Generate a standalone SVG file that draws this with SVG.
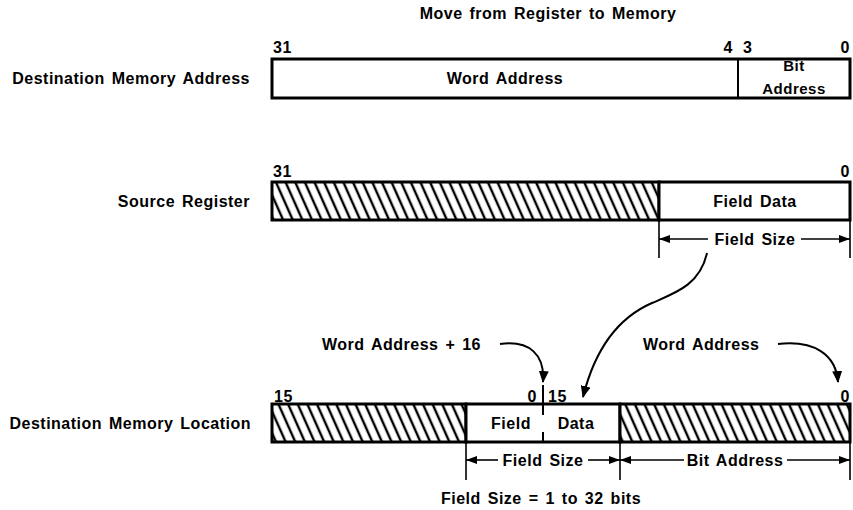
<svg xmlns="http://www.w3.org/2000/svg" width="853" height="510" viewBox="0 0 853 510">
  <style>
    text { font-family: "Liberation Sans", Arial, sans-serif; font-weight: bold; font-size: 16px; letter-spacing: 0.5px; word-spacing: 2px; fill: #000; }
    .mid { text-anchor: middle; }
    .end { text-anchor: end; }
    .box { fill: #fff; stroke: #000; stroke-width: 3; }
    .hatch { fill: url(#hatch); stroke: #000; stroke-width: 3; }
    .div { stroke: #000; stroke-width: 2; fill: none; }
    .ext { stroke: #000; stroke-width: 1.6; fill: none; }
    .dim { stroke: #000; stroke-width: 1.6; fill: none; }
    .curve { stroke: #000; stroke-width: 2; fill: none; marker-end: url(#ah); }
  </style>
  <defs>
    <pattern id="hatch" patternUnits="userSpaceOnUse" width="8.8" height="20" patternTransform="rotate(-24)">
      <rect width="8.8" height="20" fill="#fff"/>
      <line x1="2" y1="0" x2="2" y2="20" stroke="#000" stroke-width="2.4"/>
    </pattern>
    <marker id="ah" markerUnits="userSpaceOnUse" markerWidth="12" markerHeight="10" viewBox="0 0 12 10" refX="11" refY="5" orient="auto">
      <path d="M0,0 L12,5 L0,10 Z" fill="#000"/>
    </marker>
    <marker id="dh" markerUnits="userSpaceOnUse" markerWidth="11" markerHeight="8" viewBox="0 0 11 8" refX="11" refY="4" orient="auto-start-reverse">
      <path d="M0,0 L11,4 L0,8 Z" fill="#000"/>
    </marker>
  </defs>

  <g id="title">
    <text class="mid" x="548" y="19">Move from Register to Memory</text>
  </g>

  <g id="dest-memory-address">
    <text class="end" x="250" y="84">Destination Memory Address</text>
    <text x="273" y="53">31</text>
    <text class="end" x="733" y="53">4</text>
    <text x="743" y="53">3</text>
    <text class="end" x="850" y="53">0</text>
    <rect class="box" x="272" y="59" width="578" height="39"/>
    <line class="div" x1="738" y1="59" x2="738" y2="98"/>
    <text class="mid" x="505" y="84">Word Address</text>
    <text class="mid" x="794" y="71" style="font-size:15px">Bit</text>
    <text class="mid" x="794" y="94" style="font-size:15px">Address</text>
  </g>

  <g id="source-register">
    <text class="end" x="250" y="207">Source Register</text>
    <text x="273" y="177">31</text>
    <text class="end" x="850" y="177">0</text>
    <rect class="hatch" x="272" y="182" width="387" height="38"/>
    <rect class="box" x="659" y="182" width="191" height="38"/>
    <text class="mid" x="755" y="207">Field Data</text>
    <line class="ext" x1="659" y1="220" x2="659" y2="258"/>
    <line class="ext" x1="850" y1="220" x2="850" y2="258"/>
    <line class="dim" x1="659" y1="239" x2="708" y2="239" marker-start="url(#dh)"/>
    <line class="dim" x1="801" y1="239" x2="850" y2="239" marker-end="url(#dh)"/>
    <text class="mid" x="755" y="245">Field Size</text>
  </g>

  <g id="dest-memory-location">
    <text class="end" x="251" y="429">Destination Memory Location</text>
    <text x="274" y="402">15</text>
    <text class="end" x="537" y="402">0</text>
    <text x="548" y="402">15</text>
    <text class="end" x="850" y="402">0</text>
    <rect class="hatch" x="272" y="404" width="194" height="38"/>
    <rect class="box" x="466" y="404" width="154" height="38"/>
    <rect class="hatch" x="620" y="404" width="230" height="38"/>
    <line class="div" x1="543" y1="385" x2="543" y2="415"/>
    <line class="div" x1="543" y1="432" x2="543" y2="442"/>
    <text class="mid" x="511" y="429">Field</text>
    <text class="mid" x="576" y="429">Data</text>
    <line class="ext" x1="466" y1="442" x2="466" y2="480"/>
    <line class="ext" x1="620" y1="442" x2="620" y2="480"/>
    <line class="ext" x1="850" y1="442" x2="850" y2="480"/>
    <line class="dim" x1="466" y1="460" x2="498" y2="460" marker-start="url(#dh)"/>
    <line class="dim" x1="588" y1="460" x2="620" y2="460" marker-end="url(#dh)"/>
    <text class="mid" x="543" y="466">Field Size</text>
    <line class="dim" x1="620" y1="460" x2="684" y2="460" marker-start="url(#dh)"/>
    <line class="dim" x1="787" y1="460" x2="850" y2="460" marker-end="url(#dh)"/>
    <text class="mid" x="735" y="466">Bit Address</text>
    <text class="mid" x="541" y="504">Field Size = 1 to 32 bits</text>
  </g>

  <g id="annotations">
    <text x="322" y="350">Word Address + 16</text>
    <text x="643" y="350">Word Address</text>
  </g>

  <g id="connectors">
    <path class="curve" d="M500,344 C530,340 545,355 543,382"/>
    <path class="curve" d="M778,344 C815,340 836,355 838,382"/>
    <path class="curve" d="M707,253 C700,285 675,293 652,303 C622,316 596,345 583,397"/>
  </g>
</svg>
